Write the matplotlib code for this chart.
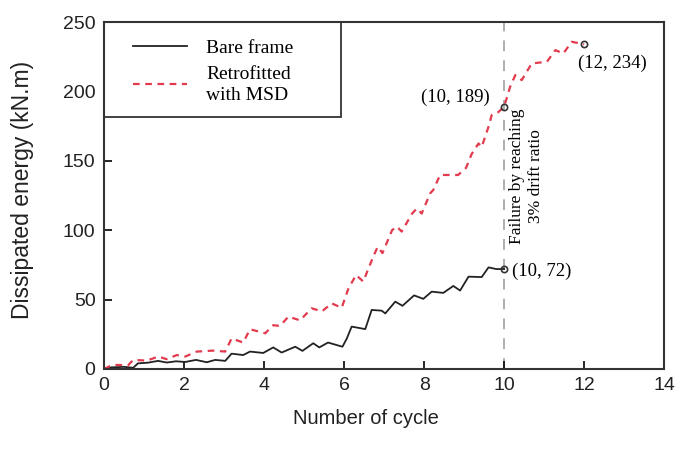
import matplotlib
matplotlib.use("Agg")
import matplotlib.pyplot as plt
from matplotlib import font_manager
from matplotlib.patches import Rectangle

# ---------------- data ----------------
bare_x = [0, 0.1, 0.5, 0.73, 0.85, 1.1, 1.35, 1.57, 1.8, 2.03, 2.3, 2.57, 2.78, 3.03,
          3.19, 3.48, 3.65, 3.98, 4.23, 4.44, 4.78, 4.96, 5.23, 5.38, 5.6, 5.96,
          6.07, 6.19, 6.53, 6.69, 6.94, 7.03, 7.28, 7.46, 7.75, 7.98, 8.19, 8.48,
          8.73, 8.9, 9.11, 9.44, 9.61, 9.8, 10.0]
bare_y = [0, 1, 1.5, 0.8, 4, 4.5, 5.8, 4.6, 5.5, 5, 6.5, 4.8, 6.5, 5.8,
          11, 10, 12.5, 11.5, 15.5, 11.8, 16, 13, 18.5, 15.5, 19, 16,
          22, 30.5, 28.7, 42.5, 42, 40, 48.5, 45.5, 53, 50.5, 55.7, 54.8,
          59.8, 56.5, 66.5, 66.2, 73.2, 72, 72]

msd_x = [0, 0.15, 0.32, 0.6, 0.73, 1.07, 1.36, 1.57, 1.82, 2.03, 2.32, 2.73, 3.03,
         3.19, 3.48, 3.65, 4.03, 4.23, 4.4, 4.61, 4.9, 5.19, 5.45, 5.69, 5.94,
         6.11, 6.3, 6.48, 6.73, 6.84, 6.96, 7.2, 7.32, 7.44, 7.7, 7.82, 7.94,
         8.15, 8.23, 8.4, 8.85, 9.05, 9.19, 9.36, 9.44, 9.61, 9.69, 9.85, 10.0,
         10.15, 10.28, 10.44, 10.69, 11.07, 11.28, 11.48, 11.69, 11.9, 12.0]
msd_y = [0, 2, 2.9, 2.5, 6.5, 6, 8.9, 7, 10, 8.9, 12.5, 13.2, 12.5,
         22, 19, 28.6, 25.7, 31.5, 31, 37.7, 35, 43.7, 41.5, 47.3, 44,
         58, 67.7, 63, 81, 88, 83.5, 100, 102.6, 99, 112, 115.7, 112,
         126.5, 129, 139.8, 139.8, 145, 155, 162.5, 160, 174.6, 183, 185, 189,
         203.4, 211.8, 208.2, 220.2, 221.4, 229.8, 227.4, 235.8, 234.6, 234]

end_points_x = [10, 10, 12]
end_points_y = [72, 189, 234]
end_labels = ["(10, 72)", "(10, 189)", "(12, 234)"]

series_labels = ["Bare frame", "Retrofitted\nwith MSD"]
x_ticks = [0, 2, 4, 6, 8, 10, 12, 14]
y_ticks = [0, 50, 100, 150, 200, 250]
failure_x = 10
failure_text = "Failure by reaching\n3% drift ratio"

# ---------------- fonts ----------------
avail = {f.name for f in font_manager.fontManager.ttflist}
sans = "Liberation Sans Narrow" if "Liberation Sans Narrow" in avail else "Liberation Sans"
serif = "Liberation Serif"

fig = plt.figure(figsize=(6.75, 4.51), dpi=100)
ax = fig.add_axes([0.154, 0.182, 0.83, 0.769])

red = "#e23a4e"
ax.plot(bare_x, bare_y, color="#222222", lw=1.3, label=series_labels[0])
ax.plot(msd_x, msd_y, color=red, lw=1.6, ls=(0, (3, 2.5)), label=series_labels[1])

ax.plot([failure_x, failure_x], [0, 250], color="#a8a8a8", lw=1.3, ls=(0, (6, 5)), zorder=1)

ax.plot(end_points_x, end_points_y, ls="none", marker="o", ms=4.5, mfc="none",
        mec="#333333", mew=1.2, zorder=5)

ax.text(10.2, 70, end_labels[0], fontsize=13.5, family=serif, ha="left", va="center")
ax.text(9.65, 196, end_labels[1], fontsize=13.5, family=serif, ha="right", va="center")
ax.text(11.85, 220, end_labels[2], fontsize=13.5, family=serif, ha="left", va="center")

ax.text(10.57, 139, failure_text, rotation=90, fontsize=12.5, family=serif,
        ha="center", va="center", multialignment="center", linespacing=1.25)

ax.set_xlim(0, 14)
ax.set_ylim(0, 250)
ax.set_xticks(x_ticks)
ax.set_yticks(y_ticks)
ax.tick_params(direction="in", length=6, width=1.2, labelsize=14, pad=6)
for lab in ax.get_xticklabels() + ax.get_yticklabels():
    lab.set_family(sans)
    lab.set_color("#222222")
for s in ax.spines.values():
    s.set_linewidth(1.5)
    s.set_color("#333333")

ax.set_xlabel("Number of cycle", fontsize=14.5, family=sans, color="#222222")
ax.set_ylabel("Dissipated energy (kN.m)", fontsize=16.5, family=sans, color="#222222")
ax.xaxis.set_label_coords(0.468, -0.115)
ax.yaxis.set_label_coords(-0.125, 0.516)

# legend frame (square box in the top-left corner of the axes)
frame = Rectangle((0, 0.726), 0.423, 0.274, transform=ax.transAxes,
                  facecolor="white", edgecolor="#333333", lw=1.3, zorder=2.2,
                  clip_on=False)
ax.add_patch(frame)

leg = ax.legend(loc="upper left", bbox_to_anchor=(0.052, 0.95),
                borderaxespad=0, borderpad=0, frameon=False,
                prop={"family": serif, "size": 14},
                handlelength=2.75, handletextpad=1.0, labelspacing=0.45)
for t in leg.get_texts():
    t.set_linespacing(1.3)
leg.set_zorder(2.3)

fig.savefig("out.png", dpi=100)
